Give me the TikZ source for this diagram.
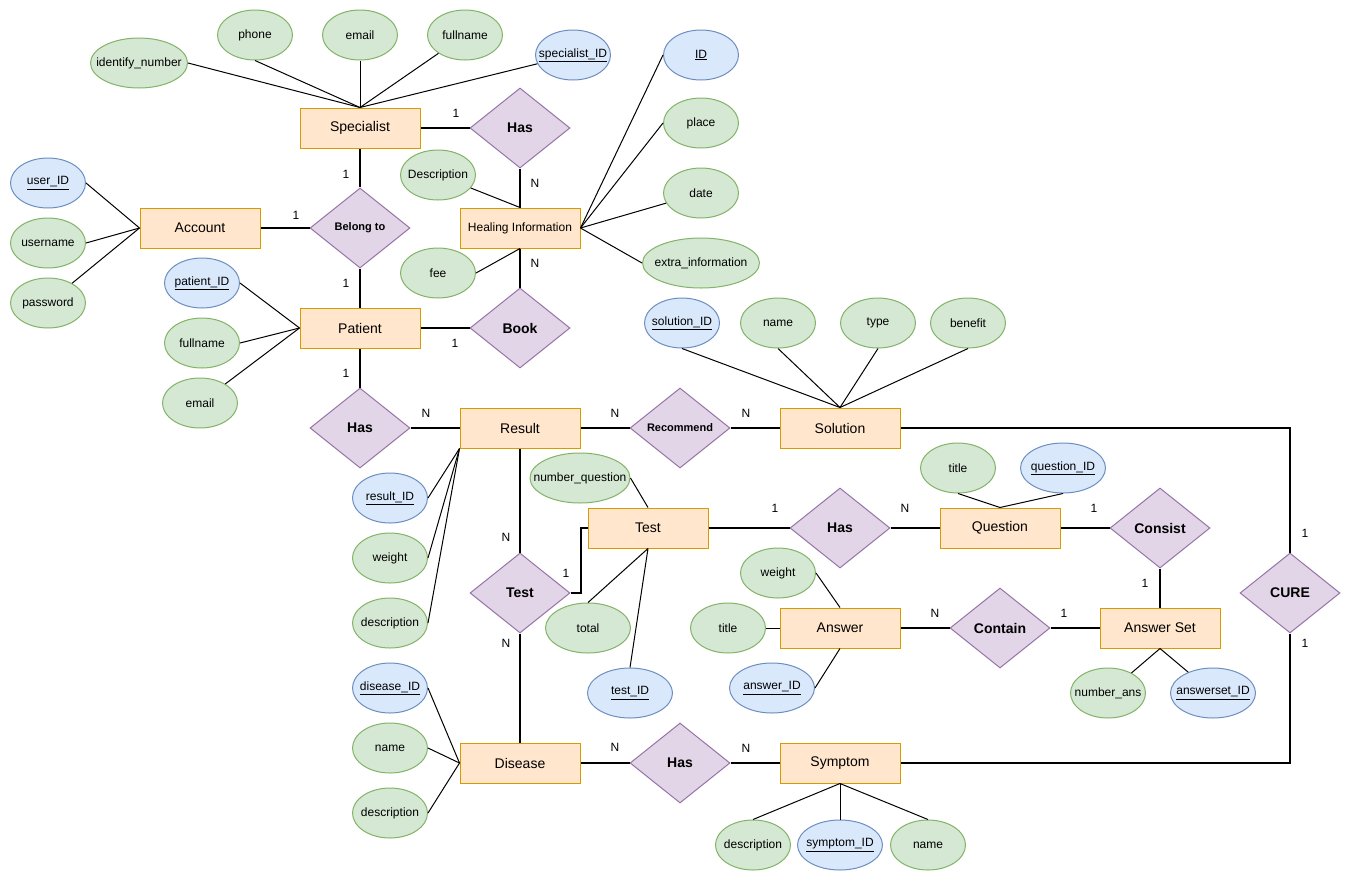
\documentclass[tikz,border=0pt]{standalone}
\usepackage{fontspec}
\setmainfont{Liberation Sans}
\usetikzlibrary{positioning, shapes.geometric}
\definecolor{entfill}{HTML}{FFE6CC}
\definecolor{entline}{HTML}{D79B00}
\definecolor{relfill}{HTML}{E1D5E7}
\definecolor{relline}{HTML}{9673A6}
\definecolor{attfill}{HTML}{D5E8D4}
\definecolor{attline}{HTML}{82B366}
\definecolor{keyfill}{HTML}{DAE8FC}
\definecolor{keyline}{HTML}{6C8EBF}

\begin{document}
\begin{tikzpicture}[
    x=1pt, y=-1pt,
    entity/.style={rectangle, draw=entline, fill=entfill, minimum width=120pt, minimum height=40pt, inner sep=0pt, line width=1pt, font=\fontsize{14}{16}\selectfont},
    rel/.style={diamond, draw=relline, fill=relfill, minimum width=100pt, minimum height=80pt, inner sep=0pt, line width=1pt, font=\bfseries\fontsize{14}{16}\selectfont},
    attr/.style={ellipse, draw=attline, fill=attfill, minimum width=75pt, minimum height=50pt, inner sep=0pt, line width=1pt, font=\fontsize{12}{14}\selectfont,
      execute at begin node={\setbox0=\hbox\bgroup},
      execute at end node={\egroup\makebox[0pt]{\box0}}},
    keyattr/.style={attr, draw=keyline, fill=keyfill},
    link/.style={line width=1pt},
    conn/.style={line width=2pt},
    card/.style={font=\fontsize{12}{14}\selectfont, inner sep=0pt},
  ]
    \useasboundingbox (0,0) rectangle (1351,881);

    % entities
    \node[entity] (spec) at (360,128) {Specialist};
    \node[entity] (acc) at (200,228) {Account};
    \node[entity, font=\fontsize{12}{14}\selectfont] (heal) at (520,228) {Healing Information};
    \node[entity] (pat) at (360,328) {Patient};
    \node[entity] (res) at (520,428) {Result};
    \node[entity] (sol) at (840,428) {Solution};
    \node[entity] (test) at (648,528) {Test};
    \node[entity] (ques) at (1000,528) {Question};
    \node[entity] (ans) at (840,628) {Answer};
    \node[entity] (aset) at (1160,628) {Answer Set};
    \node[entity] (dis) at (520,763) {Disease};
    \node[entity] (sym) at (840,763) {Symptom};

    % relationships
    \node[rel] (hasHeal) at (520,128) {Has};
    \node[rel, font=\bfseries\fontsize{11}{13}\selectfont] (belong) at (360,228) {Belong to};
    \node[rel] (book) at (520,328) {Book};
    \node[rel] (hasRes) at (360,428) {Has};
    \node[rel, font=\bfseries\fontsize{11}{13}\selectfont] (recom) at (680,428) {Recommend};
    \node[rel] (testRel) at (520,593) {Test};
    \node[rel] (hasQues) at (840,528) {Has};
    \node[rel] (consist) at (1160,528) {Consist};
    \node[rel] (contain) at (1000,628) {Contain};
    \node[rel] (cure) at (1290,593) {CURE};
    \node[rel] (hasSym) at (680,763) {Has};

    % attributes of Specialist
    \node[attr, minimum width=97pt] (specIdn) at (139,63) {identify\_number};
    \node[attr] (specPhone) at (255,35) {phone};
    \node[attr] (specEmail) at (360,35) {email};
    \node[attr] (specFull) at (465,35) {fullname};
    \node[keyattr] (specId) at (573,55) {\underline{specialist\_ID}};
    \draw[link] (specIdn.east) -- (spec.north);
    \draw[link] (specPhone.south) -- (spec.north);
    \draw[link] (specEmail.south) -- (spec.north);
    \draw[link] (specFull) -- (spec.north);
    \draw[link] (specId) -- (spec.north);

    % attributes of Account
    \node[keyattr] (accId) at (48,183) {\underline{user\_ID}};
    \node[attr] (accName) at (48,243) {username};
    \node[attr] (accPwd) at (48,303) {password};
    \draw[link] (accId.east) -- (acc.west);
    \draw[link] (accName.east) -- (acc.west);
    \draw[link] (accPwd) -- (acc.west);

    % attributes of Healing Information
    \node[keyattr] (healId) at (701,55) {\underline{ID}};
    \node[attr] (healPlace) at (701,123) {place};
    \node[attr] (healDate) at (701,193) {date};
    \node[attr, minimum width=117pt] (healExtra) at (701,263) {extra\_information};
    \node[attr] (healDesc) at (438,175) {Description};
    \node[attr] (healFee) at (438,273) {fee};
    \draw[link] (healId.west) -- (heal.east);
    \draw[link] (healPlace.west) -- (heal.east);
    \draw[link] (healDate) -- (heal.east);
    \draw[link] (healExtra.west) -- (heal.east);
    \draw[link] (healDesc) -- (heal.north);
    \draw[link] (healFee.east) -- (heal.south);

    % attributes of Patient
    \node[keyattr] (patId) at (202,283) {\underline{patient\_ID}};
    \node[attr] (patFull) at (202,343) {fullname};
    \node[attr] (patEmail) at (200,403) {email};
    \draw[link] (patId.east) -- (pat.west);
    \draw[link] (patFull.east) -- (pat.west);
    \draw[link] (patEmail) -- (pat.west);

    % attributes of Result
    \node[keyattr] (resId) at (390,498) {\underline{result\_ID}};
    \node[attr] (resWeight) at (390,558) {weight};
    \node[attr] (resDesc) at (390,623) {description};
    \draw[link] (resId.east) -- (res.south west);
    \draw[link] (resWeight.east) -- (res.south west);
    \draw[link] (resDesc.east) -- (res.south west);

    % attributes of Test
    \node[attr, minimum width=100pt] (testNum) at (580,478) {number\_question};
    \node[attr, minimum width=85pt] (testTotal) at (588,628) {total};
    \node[keyattr, minimum width=85pt] (testId) at (630,693) {\underline{test\_ID}};
    \draw[link] (testNum.east) -- (test.north);
    \draw[link] (testTotal.north) -- (test.south);
    \draw[link] (testId.north) -- (test.south);

    % attributes of Solution
    \node[keyattr] (solId) at (682,323) {\underline{solution\_ID}};
    \node[attr] (solName) at (778,323) {name};
    \node[attr] (solType) at (878,323) {type};
    \node[attr] (solBen) at (968,323) {benefit};
    \draw[link] (solId.south) -- (sol.north);
    \draw[link] (solName.south) -- (sol.north);
    \draw[link] (solType.south) -- (sol.north);
    \draw[link] (solBen.south) -- (sol.north);

    % attributes of Question
    \node[attr] (quesTitle) at (958,468) {title};
    \node[keyattr, minimum width=85pt] (quesId) at (1063,468) {\underline{question\_ID}};
    \draw[link] (quesTitle.south) -- (ques.north);
    \draw[link] (quesId.south) -- (ques.north);

    % attributes of Answer
    \node[attr] (ansWeight) at (778,573) {weight};
    \node[attr] (ansTitle) at (728,628) {title};
    \node[keyattr, minimum width=85pt] (ansId) at (772,688) {\underline{answer\_ID}};
    \draw[link] (ansWeight.east) -- (ans.north);
    \draw[link] (ansTitle.east) -- (ans.west);
    \draw[link] (ansId.east) -- (ans.south);

    % attributes of Answer Set
    \node[attr] (asetNum) at (1108,693) {number\_ans};
    \node[keyattr, minimum width=85pt] (asetId) at (1213,693) {\underline{answerset\_ID}};
    \draw[link] (asetNum) -- (aset.south);
    \draw[link] (asetId) -- (aset.south);

    % attributes of Disease
    \node[keyattr] (disId) at (390,688) {\underline{disease\_ID}};
    \node[attr] (disName) at (390,748) {name};
    \node[attr] (disDesc) at (390,813) {description};
    \draw[link] (disId.east) -- (dis.west);
    \draw[link] (disName.east) -- (dis.west);
    \draw[link] (disDesc.east) -- (dis.west);

    % attributes of Symptom
    \node[attr] (symDesc) at (753,845) {description};
    \node[keyattr, minimum width=85pt] (symId) at (840,845) {\underline{symptom\_ID}};
    \node[attr] (symName) at (928,845) {name};
    \draw[link] (symDesc.north) -- (sym.south);
    \draw[link] (symId.north) -- (sym.south);
    \draw[link] (symName.north) -- (sym.south);

    % relationship lines
    \draw[conn] (spec) -- (hasHeal);
    \draw[conn] (hasHeal) -- (heal);
    \draw[conn] (spec) -- (belong);
    \draw[conn] (acc) -- (belong);
    \draw[conn] (belong) -- (pat);
    \draw[conn] (heal) -- (book);
    \draw[conn] (pat) -- (book);
    \draw[conn] (pat) -- (hasRes);
    \draw[conn] (hasRes) -- (res);
    \draw[conn] (res) -- (recom);
    \draw[conn] (recom) -- (sol);
    \draw[conn] (res) -- (testRel);
    \draw[conn] (testRel.east) -- ++(10,0) |- (test.west);
    \draw[conn] (testRel) -- (dis);
    \draw[conn] (test) -- (hasQues);
    \draw[conn] (hasQues) -- (ques);
    \draw[conn] (ques) -- (consist);
    \draw[conn] (consist) -- (aset);
    \draw[conn] (ans) -- (contain);
    \draw[conn] (contain) -- (aset);
    \draw[conn] (sol.east) -| (cure.north);
    \draw[conn] (sym.east) -| (cure.south);
    \draw[conn] (dis) -- (hasSym);
    \draw[conn] (hasSym) -- (sym);

    % cardinalities
    \node[card] (cSpecHas) at (456,113) {1};
    \node[card] (cHasHeal) at (535,183) {N};
    \node[card] (cSpecBel) at (346,174) {1};
    \node[card] (cAccBel) at (296,215) {1};
    \node[card] (cBelPat) at (346,283) {1};
    \node[card] (cHealBook) at (535,263) {N};
    \node[card] (cPatBook) at (455,343) {1};
    \node[card] (cPatHas) at (346,373) {1};
    \node[card] (cHasRes) at (426,413) {N};
    \node[card] (cResRec) at (615,413) {N};
    \node[card] (cRecSol) at (746,413) {N};
    \node[card] (cResTest) at (506,537) {N};
    \node[card] (cTestTest) at (566,573) {1};
    \node[card] (cTestDis) at (506,643) {N};
    \node[card] (cTestHas) at (775,508) {1};
    \node[card] (cHasQues) at (905,508) {N};
    \node[card] (cQuesCon) at (1094,508) {1};
    \node[card] (cConAset) at (1145,583) {1};
    \node[card] (cAnsCon) at (935,613) {N};
    \node[card] (cConAset2) at (1064,613) {1};
    \node[card] (cSolCure) at (1305,533) {1};
    \node[card] (cSymCure) at (1305,643) {1};
    \node[card] (cDisHas) at (615,747) {N};
    \node[card] (cHasSym) at (746,748) {N};
  \end{tikzpicture}
\end{document}
